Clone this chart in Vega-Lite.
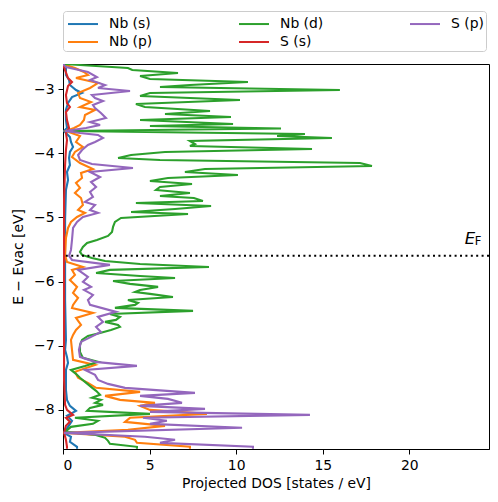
{
  "$schema": "https://vega.github.io/schema/vega-lite/v6.json",
  "width": 426,
  "height": 385,
  "autosize": {"type": "none"},
  "padding": {"left": 63, "top": 64, "right": 9, "bottom": 53},
  "background": "white",
  "config": {
    "font": "DejaVu Sans",
    "view": {"stroke": "black", "strokeWidth": 1},
    "axis": {
      "grid": false, "domainColor": "black", "domainWidth": 1,
      "tickColor": "black", "tickWidth": 1, "tickSize": 5,
      "labelFont": "DejaVu Sans", "labelFontSize": 13.9, "labelColor": "black", "labelPadding": 4,
      "titleFont": "DejaVu Sans", "titleFontSize": 13.9, "titleFontWeight": "normal", "titleColor": "black"
    }
  },
  "datasets": {
    "pdos": [
      {"orbital":"Nb (s)","E":-2.611,"dos":0.06},{"orbital":"Nb (s)","E":-2.673,"dos":0.17},{"orbital":"Nb (s)","E":-2.782,"dos":0.17},{"orbital":"Nb (s)","E":-2.860,"dos":0.35},{"orbital":"Nb (s)","E":-2.938,"dos":0.40},{"orbital":"Nb (s)","E":-3.016,"dos":0.75},{"orbital":"Nb (s)","E":-3.062,"dos":1.10},{"orbital":"Nb (s)","E":-3.125,"dos":0.52},{"orbital":"Nb (s)","E":-3.218,"dos":0.29},{"orbital":"Nb (s)","E":-3.327,"dos":0.17},{"orbital":"Nb (s)","E":-3.483,"dos":0.17},{"orbital":"Nb (s)","E":-3.607,"dos":0.23},{"orbital":"Nb (s)","E":-3.654,"dos":0.06},{"orbital":"Nb (s)","E":-3.748,"dos":0.40},{"orbital":"Nb (s)","E":-3.826,"dos":0.46},{"orbital":"Nb (s)","E":-3.903,"dos":0.58},{"orbital":"Nb (s)","E":-3.981,"dos":0.40},{"orbital":"Nb (s)","E":-4.075,"dos":0.35},{"orbital":"Nb (s)","E":-4.184,"dos":0.40},{"orbital":"Nb (s)","E":-4.293,"dos":0.23},{"orbital":"Nb (s)","E":-4.417,"dos":0.29},{"orbital":"Nb (s)","E":-4.573,"dos":0.17},{"orbital":"Nb (s)","E":-5.040,"dos":0.12},{"orbital":"Nb (s)","E":-5.664,"dos":0.12},{"orbital":"Nb (s)","E":-6.287,"dos":0.12},{"orbital":"Nb (s)","E":-6.910,"dos":0.17},{"orbital":"Nb (s)","E":-7.065,"dos":0.12},{"orbital":"Nb (s)","E":-7.174,"dos":0.23},{"orbital":"Nb (s)","E":-7.268,"dos":0.29},{"orbital":"Nb (s)","E":-7.377,"dos":0.17},{"orbital":"Nb (s)","E":-7.688,"dos":0.17},{"orbital":"Nb (s)","E":-7.844,"dos":0.23},{"orbital":"Nb (s)","E":-7.938,"dos":0.40},{"orbital":"Nb (s)","E":-8.015,"dos":0.75},{"orbital":"Nb (s)","E":-8.093,"dos":0.23},{"orbital":"Nb (s)","E":-8.171,"dos":0.52},{"orbital":"Nb (s)","E":-8.265,"dos":0.29},{"orbital":"Nb (s)","E":-8.358,"dos":0.06},{"orbital":"Nb (s)","E":-8.420,"dos":0.46},{"orbital":"Nb (s)","E":-8.498,"dos":0.40},{"orbital":"Nb (s)","E":-8.576,"dos":0.81},{"orbital":"Nb (s)","E":-8.607,"dos":0.81},

      {"orbital":"Nb (p)","E":-2.611,"dos":0.0},{"orbital":"Nb (p)","E":-2.673,"dos":0.69},{"orbital":"Nb (p)","E":-2.735,"dos":1.21},{"orbital":"Nb (p)","E":-2.782,"dos":1.44},{"orbital":"Nb (p)","E":-2.829,"dos":0.75},{"orbital":"Nb (p)","E":-2.907,"dos":2.02},{"orbital":"Nb (p)","E":-2.984,"dos":1.56},{"orbital":"Nb (p)","E":-3.062,"dos":0.87},{"orbital":"Nb (p)","E":-3.140,"dos":0.98},{"orbital":"Nb (p)","E":-3.202,"dos":1.62},{"orbital":"Nb (p)","E":-3.280,"dos":0.98},{"orbital":"Nb (p)","E":-3.327,"dos":1.85},{"orbital":"Nb (p)","E":-3.405,"dos":1.27},{"orbital":"Nb (p)","E":-3.483,"dos":1.21},{"orbital":"Nb (p)","E":-3.561,"dos":0.98},{"orbital":"Nb (p)","E":-3.607,"dos":0.64},{"orbital":"Nb (p)","E":-3.654,"dos":0.17},{"orbital":"Nb (p)","E":-3.732,"dos":0.98},{"orbital":"Nb (p)","E":-3.826,"dos":0.75},{"orbital":"Nb (p)","E":-3.903,"dos":1.15},{"orbital":"Nb (p)","E":-3.981,"dos":0.69},{"orbital":"Nb (p)","E":-4.059,"dos":0.52},{"orbital":"Nb (p)","E":-4.153,"dos":0.98},{"orbital":"Nb (p)","E":-4.246,"dos":1.73},{"orbital":"Nb (p)","E":-4.308,"dos":1.04},{"orbital":"Nb (p)","E":-4.386,"dos":1.10},{"orbital":"Nb (p)","E":-4.464,"dos":0.75},{"orbital":"Nb (p)","E":-4.542,"dos":0.98},{"orbital":"Nb (p)","E":-4.620,"dos":0.69},{"orbital":"Nb (p)","E":-4.698,"dos":1.04},{"orbital":"Nb (p)","E":-4.807,"dos":1.15},{"orbital":"Nb (p)","E":-4.885,"dos":0.87},{"orbital":"Nb (p)","E":-4.931,"dos":1.27},{"orbital":"Nb (p)","E":-4.994,"dos":0.81},{"orbital":"Nb (p)","E":-5.072,"dos":0.46},{"orbital":"Nb (p)","E":-5.165,"dos":0.29},{"orbital":"Nb (p)","E":-5.321,"dos":0.17},{"orbital":"Nb (p)","E":-5.586,"dos":0.12},{"orbital":"Nb (p)","E":-5.695,"dos":0.23},{"orbital":"Nb (p)","E":-5.773,"dos":1.15},{"orbital":"Nb (p)","E":-5.819,"dos":0.52},{"orbital":"Nb (p)","E":-5.897,"dos":0.69},{"orbital":"Nb (p)","E":-5.975,"dos":0.40},{"orbital":"Nb (p)","E":-6.084,"dos":0.81},{"orbital":"Nb (p)","E":-6.177,"dos":0.58},{"orbital":"Nb (p)","E":-6.255,"dos":0.87},{"orbital":"Nb (p)","E":-6.364,"dos":0.58},{"orbital":"Nb (p)","E":-6.411,"dos":0.52},{"orbital":"Nb (p)","E":-6.489,"dos":1.73},{"orbital":"Nb (p)","E":-6.567,"dos":0.75},{"orbital":"Nb (p)","E":-6.676,"dos":1.04},{"orbital":"Nb (p)","E":-6.754,"dos":0.75},{"orbital":"Nb (p)","E":-6.832,"dos":0.58},{"orbital":"Nb (p)","E":-6.910,"dos":0.46},{"orbital":"Nb (p)","E":-7.065,"dos":0.52},{"orbital":"Nb (p)","E":-7.221,"dos":0.58},{"orbital":"Nb (p)","E":-7.299,"dos":1.85},{"orbital":"Nb (p)","E":-7.408,"dos":0.69},{"orbital":"Nb (p)","E":-7.501,"dos":0.87},{"orbital":"Nb (p)","E":-7.579,"dos":1.44},{"orbital":"Nb (p)","E":-7.657,"dos":1.91},{"orbital":"Nb (p)","E":-7.720,"dos":4.45},{"orbital":"Nb (p)","E":-7.782,"dos":2.43},{"orbital":"Nb (p)","E":-7.844,"dos":3.29},{"orbital":"Nb (p)","E":-7.891,"dos":5.31},{"orbital":"Nb (p)","E":-7.938,"dos":4.45},{"orbital":"Nb (p)","E":-8.000,"dos":5.02},{"orbital":"Nb (p)","E":-8.062,"dos":8.31},{"orbital":"Nb (p)","E":-8.124,"dos":3.87},{"orbital":"Nb (p)","E":-8.187,"dos":3.58},{"orbital":"Nb (p)","E":-8.249,"dos":5.89},{"orbital":"Nb (p)","E":-8.311,"dos":3.75},{"orbital":"Nb (p)","E":-8.358,"dos":0.12},{"orbital":"Nb (p)","E":-8.420,"dos":3.58},{"orbital":"Nb (p)","E":-8.467,"dos":4.16},{"orbital":"Nb (p)","E":-8.514,"dos":4.27},{"orbital":"Nb (p)","E":-8.576,"dos":7.33},{"orbital":"Nb (p)","E":-8.607,"dos":7.33},

      {"orbital":"Nb (d)","E":-2.611,"dos":0.06},{"orbital":"Nb (d)","E":-2.673,"dos":3.75},{"orbital":"Nb (d)","E":-2.704,"dos":4.0},{"orbital":"Nb (d)","E":-2.751,"dos":6.64},{"orbital":"Nb (d)","E":-2.798,"dos":4.45},{"orbital":"Nb (d)","E":-2.844,"dos":5.02},{"orbital":"Nb (d)","E":-2.891,"dos":10.68},{"orbital":"Nb (d)","E":-2.938,"dos":7.33},{"orbital":"Nb (d)","E":-2.969,"dos":5.6},{"orbital":"Nb (d)","E":-3.016,"dos":15.99},{"orbital":"Nb (d)","E":-3.062,"dos":5.02},{"orbital":"Nb (d)","E":-3.109,"dos":4.45},{"orbital":"Nb (d)","E":-3.171,"dos":10.22},{"orbital":"Nb (d)","E":-3.234,"dos":4.21},{"orbital":"Nb (d)","E":-3.280,"dos":4.73},{"orbital":"Nb (d)","E":-3.343,"dos":8.49},{"orbital":"Nb (d)","E":-3.389,"dos":5.89},{"orbital":"Nb (d)","E":-3.436,"dos":9.7},{"orbital":"Nb (d)","E":-3.483,"dos":4.45},{"orbital":"Nb (d)","E":-3.545,"dos":9.82},{"orbital":"Nb (d)","E":-3.576,"dos":5.02},{"orbital":"Nb (d)","E":-3.615,"dos":12.59},{"orbital":"Nb (d)","E":-3.654,"dos":0.2},{"orbital":"Nb (d)","E":-3.701,"dos":13.97},{"orbital":"Nb (d)","E":-3.732,"dos":12.36},{"orbital":"Nb (d)","E":-3.763,"dos":15.53},{"orbital":"Nb (d)","E":-3.810,"dos":7.33},{"orbital":"Nb (d)","E":-3.857,"dos":7.62},{"orbital":"Nb (d)","E":-3.888,"dos":7.33},{"orbital":"Nb (d)","E":-3.935,"dos":14.38},{"orbital":"Nb (d)","E":-3.981,"dos":5.89},{"orbital":"Nb (d)","E":-4.028,"dos":3.93},{"orbital":"Nb (d)","E":-4.075,"dos":3.18},{"orbital":"Nb (d)","E":-4.106,"dos":5.6},{"orbital":"Nb (d)","E":-4.153,"dos":17.15},{"orbital":"Nb (d)","E":-4.199,"dos":17.84},{"orbital":"Nb (d)","E":-4.246,"dos":8.2},{"orbital":"Nb (d)","E":-4.293,"dos":7.04},{"orbital":"Nb (d)","E":-4.340,"dos":10.1},{"orbital":"Nb (d)","E":-4.386,"dos":6.06},{"orbital":"Nb (d)","E":-4.433,"dos":5.02},{"orbital":"Nb (d)","E":-4.480,"dos":7.45},{"orbital":"Nb (d)","E":-4.526,"dos":5.6},{"orbital":"Nb (d)","E":-4.573,"dos":5.37},{"orbital":"Nb (d)","E":-4.620,"dos":7.33},{"orbital":"Nb (d)","E":-4.667,"dos":5.6},{"orbital":"Nb (d)","E":-4.698,"dos":7.56},{"orbital":"Nb (d)","E":-4.745,"dos":8.08},{"orbital":"Nb (d)","E":-4.776,"dos":4.21},{"orbital":"Nb (d)","E":-4.822,"dos":8.55},{"orbital":"Nb (d)","E":-4.869,"dos":6.47},{"orbital":"Nb (d)","E":-4.916,"dos":3.93},{"orbital":"Nb (d)","E":-4.947,"dos":7.22},{"orbital":"Nb (d)","E":-5.009,"dos":3.35},{"orbital":"Nb (d)","E":-5.072,"dos":3.0},{"orbital":"Nb (d)","E":-5.149,"dos":2.89},{"orbital":"Nb (d)","E":-5.227,"dos":2.83},{"orbital":"Nb (d)","E":-5.290,"dos":2.6},{"orbital":"Nb (d)","E":-5.352,"dos":1.96},{"orbital":"Nb (d)","E":-5.399,"dos":1.39},{"orbital":"Nb (d)","E":-5.461,"dos":1.15},{"orbital":"Nb (d)","E":-5.539,"dos":0.98},{"orbital":"Nb (d)","E":-5.586,"dos":1.1},{"orbital":"Nb (d)","E":-5.632,"dos":1.67},{"orbital":"Nb (d)","E":-5.679,"dos":2.43},{"orbital":"Nb (d)","E":-5.726,"dos":4.45},{"orbital":"Nb (d)","E":-5.773,"dos":8.43},{"orbital":"Nb (d)","E":-5.819,"dos":2.71},{"orbital":"Nb (d)","E":-5.866,"dos":1.91},{"orbital":"Nb (d)","E":-5.913,"dos":4.45},{"orbital":"Nb (d)","E":-5.944,"dos":6.47},{"orbital":"Nb (d)","E":-5.991,"dos":2.89},{"orbital":"Nb (d)","E":-6.037,"dos":3.87},{"orbital":"Nb (d)","E":-6.084,"dos":5.49},{"orbital":"Nb (d)","E":-6.131,"dos":4.45},{"orbital":"Nb (d)","E":-6.162,"dos":4.16},{"orbital":"Nb (d)","E":-6.193,"dos":5.02},{"orbital":"Nb (d)","E":-6.240,"dos":6.35},{"orbital":"Nb (d)","E":-6.287,"dos":3.75},{"orbital":"Nb (d)","E":-6.333,"dos":4.33},{"orbital":"Nb (d)","E":-6.364,"dos":4.16},{"orbital":"Nb (d)","E":-6.411,"dos":3.0},{"orbital":"Nb (d)","E":-6.458,"dos":7.51},{"orbital":"Nb (d)","E":-6.505,"dos":2.71},{"orbital":"Nb (d)","E":-6.551,"dos":3.29},{"orbital":"Nb (d)","E":-6.598,"dos":3.06},{"orbital":"Nb (d)","E":-6.629,"dos":2.43},{"orbital":"Nb (d)","E":-6.676,"dos":3.18},{"orbital":"Nb (d)","E":-6.707,"dos":3.29},{"orbital":"Nb (d)","E":-6.754,"dos":2.77},{"orbital":"Nb (d)","E":-6.801,"dos":2.14},{"orbital":"Nb (d)","E":-6.847,"dos":1.44},{"orbital":"Nb (d)","E":-6.910,"dos":1.1},{"orbital":"Nb (d)","E":-6.987,"dos":0.98},{"orbital":"Nb (d)","E":-7.097,"dos":0.98},{"orbital":"Nb (d)","E":-7.190,"dos":1.15},{"orbital":"Nb (d)","E":-7.252,"dos":2.02},{"orbital":"Nb (d)","E":-7.315,"dos":1.27},{"orbital":"Nb (d)","E":-7.377,"dos":0.46},{"orbital":"Nb (d)","E":-7.439,"dos":0.75},{"orbital":"Nb (d)","E":-7.501,"dos":0.98},{"orbital":"Nb (d)","E":-7.564,"dos":1.27},{"orbital":"Nb (d)","E":-7.642,"dos":1.62},{"orbital":"Nb (d)","E":-7.704,"dos":1.91},{"orbital":"Nb (d)","E":-7.766,"dos":2.14},{"orbital":"Nb (d)","E":-7.813,"dos":1.67},{"orbital":"Nb (d)","E":-7.844,"dos":2.19},{"orbital":"Nb (d)","E":-7.891,"dos":1.85},{"orbital":"Nb (d)","E":-7.922,"dos":2.31},{"orbital":"Nb (d)","E":-7.969,"dos":1.56},{"orbital":"Nb (d)","E":-8.015,"dos":1.39},{"orbital":"Nb (d)","E":-8.062,"dos":5.02},{"orbital":"Nb (d)","E":-8.124,"dos":0.69},{"orbital":"Nb (d)","E":-8.171,"dos":2.02},{"orbital":"Nb (d)","E":-8.218,"dos":1.73},{"orbital":"Nb (d)","E":-8.265,"dos":0.46},{"orbital":"Nb (d)","E":-8.343,"dos":0.12},{"orbital":"Nb (d)","E":-8.389,"dos":1.85},{"orbital":"Nb (d)","E":-8.436,"dos":2.43},{"orbital":"Nb (d)","E":-8.483,"dos":2.6},{"orbital":"Nb (d)","E":-8.529,"dos":2.71},{"orbital":"Nb (d)","E":-8.576,"dos":4.27},{"orbital":"Nb (d)","E":-8.607,"dos":4.27},

      {"orbital":"S (s)","E":-2.611,"dos":0.0},{"orbital":"S (s)","E":-2.704,"dos":0.12},{"orbital":"S (s)","E":-2.829,"dos":0.29},{"orbital":"S (s)","E":-2.891,"dos":0.52},{"orbital":"S (s)","E":-2.953,"dos":0.29},{"orbital":"S (s)","E":-3.093,"dos":0.17},{"orbital":"S (s)","E":-3.218,"dos":0.23},{"orbital":"S (s)","E":-3.280,"dos":0.40},{"orbital":"S (s)","E":-3.358,"dos":0.17},{"orbital":"S (s)","E":-3.483,"dos":0.23},{"orbital":"S (s)","E":-3.607,"dos":0.35},{"orbital":"S (s)","E":-3.685,"dos":0.17},{"orbital":"S (s)","E":-3.794,"dos":0.23},{"orbital":"S (s)","E":-3.950,"dos":0.17},{"orbital":"S (s)","E":-4.184,"dos":0.12},{"orbital":"S (s)","E":-4.729,"dos":0.06},{"orbital":"S (s)","E":-5.664,"dos":0.06},{"orbital":"S (s)","E":-6.754,"dos":0.06},{"orbital":"S (s)","E":-7.533,"dos":0.06},{"orbital":"S (s)","E":-7.922,"dos":0.12},{"orbital":"S (s)","E":-8.000,"dos":0.23},{"orbital":"S (s)","E":-8.078,"dos":0.58},{"orbital":"S (s)","E":-8.124,"dos":0.17},{"orbital":"S (s)","E":-8.187,"dos":0.40},{"orbital":"S (s)","E":-8.249,"dos":0.17},{"orbital":"S (s)","E":-8.358,"dos":0.06},{"orbital":"S (s)","E":-8.467,"dos":0.17},{"orbital":"S (s)","E":-8.576,"dos":0.23},{"orbital":"S (s)","E":-8.607,"dos":0.23},

      {"orbital":"S (p)","E":-2.611,"dos":0.0},{"orbital":"S (p)","E":-2.657,"dos":0.17},{"orbital":"S (p)","E":-2.735,"dos":1.44},{"orbital":"S (p)","E":-2.813,"dos":1.96},{"orbital":"S (p)","E":-2.860,"dos":1.56},{"orbital":"S (p)","E":-2.938,"dos":2.43},{"orbital":"S (p)","E":-2.984,"dos":2.02},{"orbital":"S (p)","E":-3.031,"dos":3.87},{"orbital":"S (p)","E":-3.093,"dos":1.67},{"orbital":"S (p)","E":-3.140,"dos":1.85},{"orbital":"S (p)","E":-3.187,"dos":2.31},{"orbital":"S (p)","E":-3.249,"dos":1.73},{"orbital":"S (p)","E":-3.296,"dos":1.85},{"orbital":"S (p)","E":-3.374,"dos":2.19},{"orbital":"S (p)","E":-3.452,"dos":2.48},{"orbital":"S (p)","E":-3.514,"dos":1.56},{"orbital":"S (p)","E":-3.561,"dos":2.14},{"orbital":"S (p)","E":-3.607,"dos":1.33},{"orbital":"S (p)","E":-3.654,"dos":0.12},{"orbital":"S (p)","E":-3.685,"dos":0.98},{"orbital":"S (p)","E":-3.716,"dos":2.02},{"orbital":"S (p)","E":-3.763,"dos":2.31},{"orbital":"S (p)","E":-3.826,"dos":1.85},{"orbital":"S (p)","E":-3.872,"dos":1.44},{"orbital":"S (p)","E":-3.950,"dos":1.10},{"orbital":"S (p)","E":-4.028,"dos":0.87},{"orbital":"S (p)","E":-4.106,"dos":0.98},{"orbital":"S (p)","E":-4.168,"dos":1.67},{"orbital":"S (p)","E":-4.230,"dos":4.04},{"orbital":"S (p)","E":-4.293,"dos":1.56},{"orbital":"S (p)","E":-4.371,"dos":2.14},{"orbital":"S (p)","E":-4.449,"dos":1.62},{"orbital":"S (p)","E":-4.526,"dos":1.91},{"orbital":"S (p)","E":-4.604,"dos":1.56},{"orbital":"S (p)","E":-4.682,"dos":1.73},{"orbital":"S (p)","E":-4.760,"dos":1.27},{"orbital":"S (p)","E":-4.807,"dos":1.85},{"orbital":"S (p)","E":-4.885,"dos":1.56},{"orbital":"S (p)","E":-4.931,"dos":2.02},{"orbital":"S (p)","E":-4.994,"dos":1.15},{"orbital":"S (p)","E":-5.072,"dos":0.81},{"orbital":"S (p)","E":-5.165,"dos":0.58},{"orbital":"S (p)","E":-5.352,"dos":0.52},{"orbital":"S (p)","E":-5.508,"dos":0.46},{"orbital":"S (p)","E":-5.601,"dos":0.35},{"orbital":"S (p)","E":-5.664,"dos":0.52},{"orbital":"S (p)","E":-5.741,"dos":2.71},{"orbital":"S (p)","E":-5.819,"dos":0.87},{"orbital":"S (p)","E":-5.928,"dos":1.44},{"orbital":"S (p)","E":-6.006,"dos":1.15},{"orbital":"S (p)","E":-6.084,"dos":1.62},{"orbital":"S (p)","E":-6.131,"dos":1.21},{"orbital":"S (p)","E":-6.209,"dos":1.73},{"orbital":"S (p)","E":-6.287,"dos":1.44},{"orbital":"S (p)","E":-6.364,"dos":1.56},{"orbital":"S (p)","E":-6.473,"dos":3.06},{"orbital":"S (p)","E":-6.551,"dos":2.02},{"orbital":"S (p)","E":-6.629,"dos":2.31},{"orbital":"S (p)","E":-6.707,"dos":1.91},{"orbital":"S (p)","E":-6.785,"dos":2.19},{"orbital":"S (p)","E":-6.863,"dos":1.62},{"orbital":"S (p)","E":-6.941,"dos":1.04},{"orbital":"S (p)","E":-7.065,"dos":0.92},{"orbital":"S (p)","E":-7.174,"dos":0.98},{"orbital":"S (p)","E":-7.252,"dos":1.85},{"orbital":"S (p)","E":-7.315,"dos":4.27},{"orbital":"S (p)","E":-7.377,"dos":1.27},{"orbital":"S (p)","E":-7.455,"dos":1.85},{"orbital":"S (p)","E":-7.533,"dos":2.02},{"orbital":"S (p)","E":-7.595,"dos":2.60},{"orbital":"S (p)","E":-7.657,"dos":3.58},{"orbital":"S (p)","E":-7.735,"dos":7.62},{"orbital":"S (p)","E":-7.782,"dos":4.45},{"orbital":"S (p)","E":-7.829,"dos":6.06},{"orbital":"S (p)","E":-7.891,"dos":6.87},{"orbital":"S (p)","E":-7.938,"dos":4.45},{"orbital":"S (p)","E":-7.984,"dos":8.20},{"orbital":"S (p)","E":-8.031,"dos":5.02},{"orbital":"S (p)","E":-8.078,"dos":14.26},{"orbital":"S (p)","E":-8.124,"dos":4.62},{"orbital":"S (p)","E":-8.171,"dos":6.00},{"orbital":"S (p)","E":-8.218,"dos":5.02},{"orbital":"S (p)","E":-8.280,"dos":10.34},{"orbital":"S (p)","E":-8.358,"dos":0.06},{"orbital":"S (p)","E":-8.420,"dos":4.73},{"orbital":"S (p)","E":-8.467,"dos":6.47},{"orbital":"S (p)","E":-8.514,"dos":5.60},{"orbital":"S (p)","E":-8.576,"dos":10.97},{"orbital":"S (p)","E":-8.607,"dos":10.97}
    ],
    "fermi": [{"E": -5.6, "dos": 23.2, "main": "E", "sub": "F", "dos_sub": 23.78}]
  },
  "layer": [
    {
      "data": {"name": "pdos"},
      "mark": {"type": "line", "strokeWidth": 2.1, "clip": true},
      "encoding": {
        "x": {"field": "dos", "type": "quantitative",
              "scale": {"domain": [0, 24.6], "nice": false, "zero": false},
              "axis": {"values": [0, 5, 10, 15, 20], "titlePadding": 5},
              "title": "Projected DOS [states / eV]"},
        "y": {"field": "E", "type": "quantitative",
              "scale": {"domain": [-8.61, -2.61], "nice": false, "zero": false},
              "axis": {"values": [-8, -7, -6, -5, -4, -3], "format": "d", "labelExpr": "replace(datum.label, '-', '−')", "titlePadding": 8},
              "title": "E − Evac [eV]"},
        "color": {"field": "orbital", "type": "nominal",
                  "scale": {"domain": ["Nb (s)", "Nb (p)", "Nb (d)", "S (s)", "S (p)"],
                            "range": ["#1f77b4", "#ff7f0e", "#2ca02c", "#d62728", "#9467bd"]},
                  "legend": {"orient": "none", "legendX": 0, "legendY": -53, "columns": 3, "title": null,
                             "symbolType": "M-0.8,0L2.2,0", "symbolSize": 400, "symbolStrokeWidth": 2,
                             "labelFont": "DejaVu Sans", "labelFontSize": 13.9, "labelColor": "black",
                             "labelOffset": 22, "columnPadding": 82, "rowPadding": 0, "padding": 2,
                             "strokeColor": "#cccccc", "fillColor": "white", "cornerRadius": 3}},
        "order": {"field": "E", "type": "quantitative"}
      }
    },
    {
      "data": {"name": "fermi"},
      "mark": {"type": "rule", "color": "black", "strokeWidth": 2, "strokeDash": [2, 3.4]},
      "encoding": {"y": {"field": "E", "type": "quantitative"}}
    },
    {
      "data": {"name": "fermi"},
      "mark": {"type": "text", "fontStyle": "italic", "fontSize": 16.5, "align": "left", "baseline": "alphabetic", "dy": -12, "color": "black"},
      "encoding": {"x": {"field": "dos", "type": "quantitative"}, "y": {"field": "E", "type": "quantitative"}, "text": {"field": "main"}}
    },
    {
      "data": {"name": "fermi"},
      "mark": {"type": "text", "fontSize": 11.5, "align": "left", "baseline": "alphabetic", "dy": -11, "color": "black"},
      "encoding": {"x": {"field": "dos_sub", "type": "quantitative"}, "y": {"field": "E", "type": "quantitative"}, "text": {"field": "sub"}}
    }
  ]
}
